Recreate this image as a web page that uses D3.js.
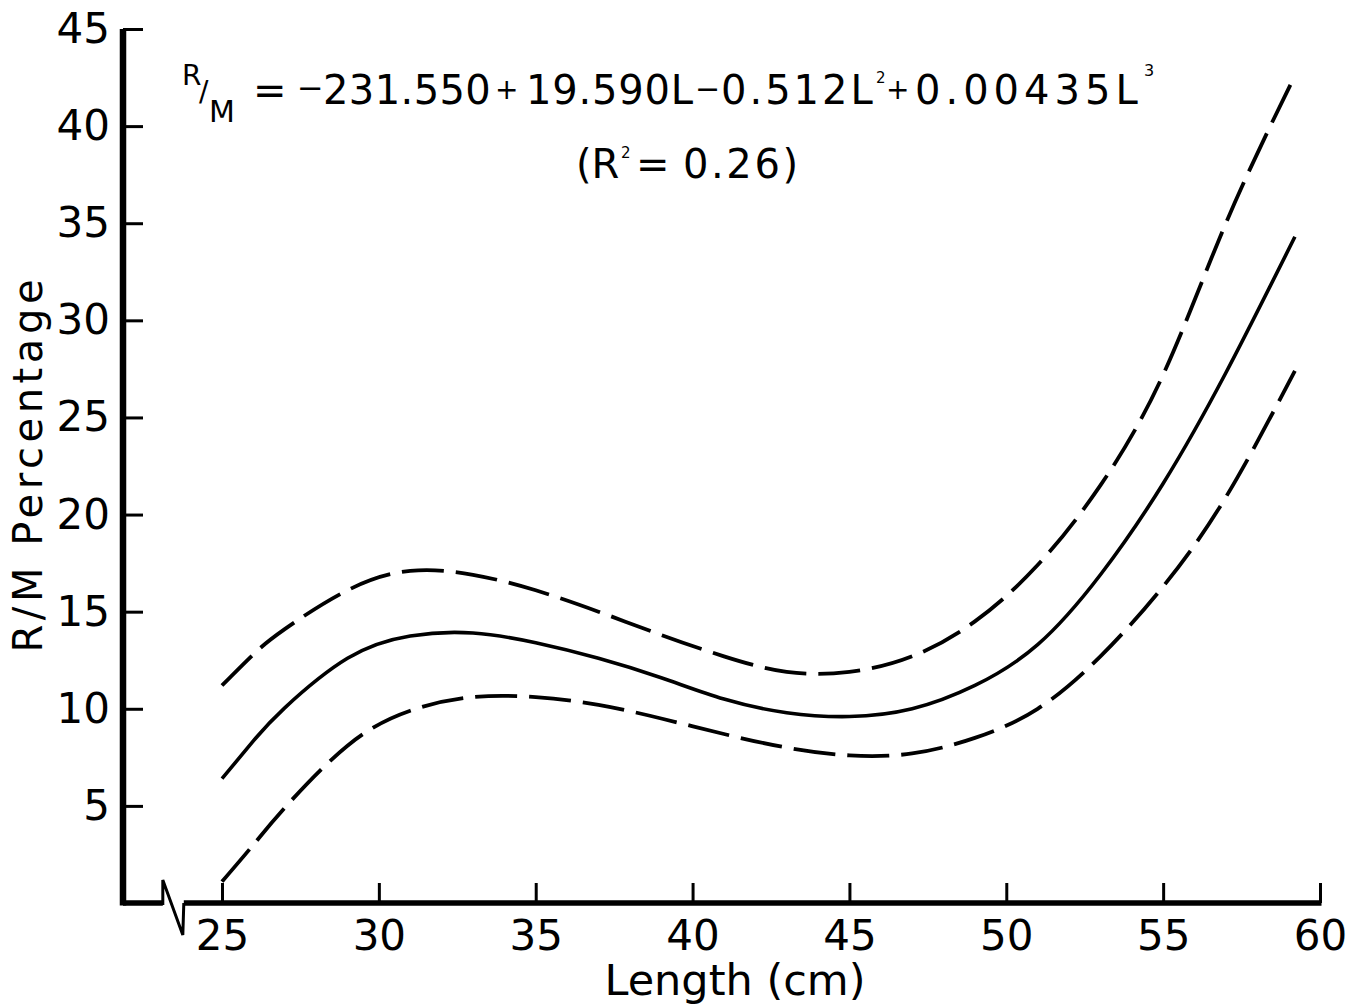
<!DOCTYPE html>
<html>
<head>
<meta charset="utf-8">
<script src="https://cdn.jsdelivr.net/npm/d3@7"></script>
<style>
  html, body { margin: 0; padding: 0; background: #fff; }
  svg { display: block; }
  text { font-family: "DejaVu Sans", sans-serif; fill: #000; }
</style>
</head>
<body>
<div id="container"></div>
<script>
const lengths    = [25, 26, 27, 29, 31, 33, 35, 37, 39, 41, 43, 45, 47, 49, 51, 53, 55, 57, 59.2];
// fitted cubic (solid) and the two confidence bands (dashed), R/M %
const fitted     = [6.4, 8.35, 10.05, 12.6, 13.75, 13.9, 13.4, 12.6, 11.6, 10.5, 9.8, 9.6, 10.0, 11.2, 13.3, 16.9, 21.6, 27.3, 34.3];
const upperBand  = [11.2, 12.8, 14.1, 16.1, 17.1, 16.9, 16.1, 15.0, 13.8, 12.7, 11.9, 11.9, 12.7, 14.5, 17.4, 21.5, 27.2, 35.0, 42.6];
const lowerBand  = [1.1, 3.0, 4.9, 8.1, 9.9, 10.6, 10.6, 10.2, 9.5, 8.7, 8.0, 7.6, 7.7, 8.5, 10.0, 12.7, 16.3, 20.9, 27.4];

const xTicks = [25, 30, 35, 40, 45, 50, 55, 60];
const yTicks = [5, 10, 15, 20, 25, 30, 35, 40, 45];

const eqTerms = ["=", "\u2212", "231.550", "+", "19.590L", "\u2212", "0.512L", "2", "+", "0.00435L", "3"];
const r2Terms = ["(R", "2", "=", "0.26)"];

const draw = () => {
  const width = 1356;
  const height = 1008;
  const svg = d3.select("div#container")
    .append("svg")
    .attr("width", width)
    .attr("height", height);

  const axisX = 123;     // where the y axis stands
  const x = d3.scaleLinear().domain([25, 60]).range([222, 1320]);
  const y = d3.scaleLinear().domain([0, 45]).range([903, 29]);

  //////////////////////////////////////////////
  //////////////////// AXES ////////////////////
  //////////////////////////////////////////////

  const yAxis = svg.append("g")
    .attr("transform", `translate(${axisX},0)`)
    .call(d3.axisLeft(y).tickValues(yTicks).tickSize(-20).tickPadding(13));
  yAxis.select(".domain").remove();
  yAxis.selectAll(".tick line").attr("stroke", "#000").attr("stroke-width", 3);
  yAxis.selectAll(".tick text").attr("font-size", 42).attr("font-family", "DejaVu Sans");
  yAxis.append("line")
    .attr("y1", y(0) + 2.5).attr("y2", y(45))
    .attr("stroke", "#000").attr("stroke-width", 6.5);

  const xAxis = svg.append("g")
    .attr("transform", `translate(0,${y(0)})`)
    .call(d3.axisBottom(x).tickValues(xTicks).tickSize(-20).tickPadding(17));
  xAxis.select(".domain").remove();
  xAxis.selectAll(".tick line").attr("stroke", "#000").attr("stroke-width", 3);
  xAxis.selectAll(".tick text").attr("font-size", 42).attr("font-family", "DejaVu Sans");

  // x axis with the scale break between the y axis and 25
  const bx = x(23.4);
  xAxis.append("path")
    .attr("d", `M${axisX},0 H${bx - 9} M${bx + 12},0 H${x(60) + 1.5}`)
    .attr("fill", "none").attr("stroke", "#000").attr("stroke-width", 5.5);
  xAxis.append("path")
    .attr("d", `M${bx - 9},2 V-23 L${bx + 11},32 L${bx + 12},0`)
    .attr("fill", "none").attr("stroke", "#000").attr("stroke-width", 3)
    .attr("stroke-linejoin", "miter");

  //////////////////////////////////////////////
  /////////////////// CURVES ///////////////////
  //////////////////////////////////////////////

  const line = d3.line()
    .x(d => x(d[0]))
    .y(d => y(d[1]))
    .curve(d3.curveNatural);

  const series = [
    { values: upperBand, dash: "42,12", w: 3.8 },
    { values: fitted, dash: null, w: 3.6 },
    { values: lowerBand, dash: "42,12", w: 3.8 },
  ];

  svg.append("g")
    .selectAll("path")
    .data(series)
    .join("path")
    .attr("d", s => line(lengths.map((l, i) => [l, s.values[i]])))
    .attr("fill", "none")
    .attr("stroke", "#000")
    .attr("stroke-width", s => s.w)
    .attr("stroke-dasharray", s => s.dash);

  //////////////////////////////////////////////
  /////////////////// LABELS ///////////////////
  //////////////////////////////////////////////

  svg.append("text")
    .attr("transform", "translate(42,466) rotate(-90)")
    .attr("text-anchor", "middle")
    .attr("font-size", 40)
    .attr("textLength", 373)
    .attr("lengthAdjust", "spacing")
    .text("R/M  Percentage");

  svg.append("text")
    .attr("x", 735).attr("y", 995)
    .attr("text-anchor", "middle")
    .attr("font-size", 43)
    .text("Length (cm)");

  // R/M written as a slanted fraction
  const frac = svg.append("text").attr("font-size", 30);
  frac.append("tspan").attr("x", 182).attr("y", 85).attr("font-size", 28).text("R");
  frac.append("tspan").attr("x", 199).attr("y", 101).attr("font-size", 28).text("/");
  frac.append("tspan").attr("x", 209).attr("y", 122).text("M");

  // equation, line 1: [x, baseline, font size, letter spacing]
  const eqLayout = [
    [253, 104, 40, 0], [297, 99, 32, 0], [323, 104, 40, 0.4], [495, 99, 28, 0],
    [526, 104, 40, 0.8], [695, 99, 30, 0], [721, 104, 40, 3], [876, 83, 15, 0],
    [886, 99, 28, 0], [915, 104, 40, 5], [1144, 76, 16, 0],
  ];
  const eq = svg.append("text");
  eqTerms.forEach((t, i) => {
    const [tx, ty, fs, ls] = eqLayout[i];
    eq.append("tspan")
      .attr("x", tx).attr("y", ty)
      .attr("font-size", fs)
      .style("letter-spacing", `${ls}px`)
      .text(t);
  });

  // equation, line 2
  const r2Layout = [[576, 178, 40, 0], [621, 158, 15, 0], [636, 178, 40, 0], [683, 178, 40, 2.6]];
  const r2 = svg.append("text");
  r2Terms.forEach((t, i) => {
    const [tx, ty, fs, ls] = r2Layout[i];
    r2.append("tspan")
      .attr("x", tx).attr("y", ty)
      .attr("font-size", fs)
      .style("letter-spacing", `${ls}px`)
      .text(t);
  });
};

draw();
</script>
</body>
</html>
